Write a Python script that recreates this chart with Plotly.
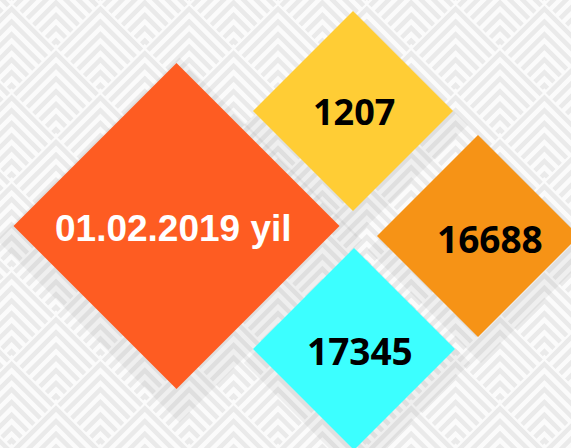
import plotly.graph_objects as go

# ---- content ----
labels = ["01.02.2019 yil", "1207", "16688", "17345"]
fill_colors = ["#FE5C22", "#FFCD35", "#F69316", "#3CFFFF"]
text_colors = ["#FFFFFF", "#000000", "#000000", "#000000"]

# ---- layout (pixel space of the 571x448 canvas) ----
W, H = 571, 448
cx = [176.5, 353, 478, 354]
cy = [226, 111, 236, 349]
half = [163, 100, 101, 101]          # half-diagonal of each diamond, px
tx = [173, 354, 490, 360]            # label centres
ty = [228, 111, 238, 350]
fsize = [37, 36, 37, 37]

fig = go.Figure()

# ---- decorative background: nested chevron tiles ----
h = 44.4
n_chev = 7
bx, by = [], []
for i in range(-8, 6):
    for j in range(-3, 6):
        for off in (0, 1):
            top_x = 500 + i * 2 * h + off * h
            top_y = 47 + j * 2 * h + off * h
            for k in range(n_chev):
                d = (k + 0.5) * 2 * h / n_chev
                bx += [top_x - h + d / 2, top_x, top_x + h - d / 2, None]
                by += [top_y + h + d / 2, top_y + d, top_y + h + d / 2, None]
fig.add_trace(go.Scatter(x=bx, y=by, mode="lines",
                         line=dict(color="#eaeaea", width=4.5),
                         hoverinfo="skip", showlegend=False))

# ---- shadows ----
scale = 1.12
fig.add_trace(go.Scatter(
    x=[c + 3 for c in cx], y=[c + 14 for c in cy], mode="markers",
    marker=dict(symbol="diamond", size=[2 * hh * scale / 1.3 for hh in half],
                color="rgba(90,90,90,0.10)", line=dict(width=0)),
    hoverinfo="skip", showlegend=False))

# ---- diamonds ----
fig.add_trace(go.Scatter(
    x=cx, y=cy, mode="markers",
    marker=dict(symbol="diamond", size=[2 * hh / 1.3 for hh in half],
                color=fill_colors, opacity=1, line=dict(width=0)),
    hoverinfo="skip", showlegend=False))

# ---- labels ----
for lab, x, y, c, fs, i in zip(labels, tx, ty, text_colors, fsize, range(4)):
    fig.add_annotation(x=x, y=y, text=lab, showarrow=False,
                       font=dict(family="Liberation Sans, Arial" if i == 0 else "Open Sans",
                                 size=fs, color=c, weight="bold"),
                       xanchor="center", yanchor="middle")

fig.update_layout(
    width=W, height=H, margin=dict(l=0, r=0, t=0, b=0),
    paper_bgcolor="#fbfbfb", plot_bgcolor="#fbfbfb",
    xaxis=dict(range=[0, W], visible=False, fixedrange=True),
    yaxis=dict(range=[H, 0], visible=False, fixedrange=True),
    showlegend=False,
)

fig.write_html("out.html", config={"displayModeBar": False},
               post_script="document.body.style.margin='0';document.body.style.overflow='hidden';")
